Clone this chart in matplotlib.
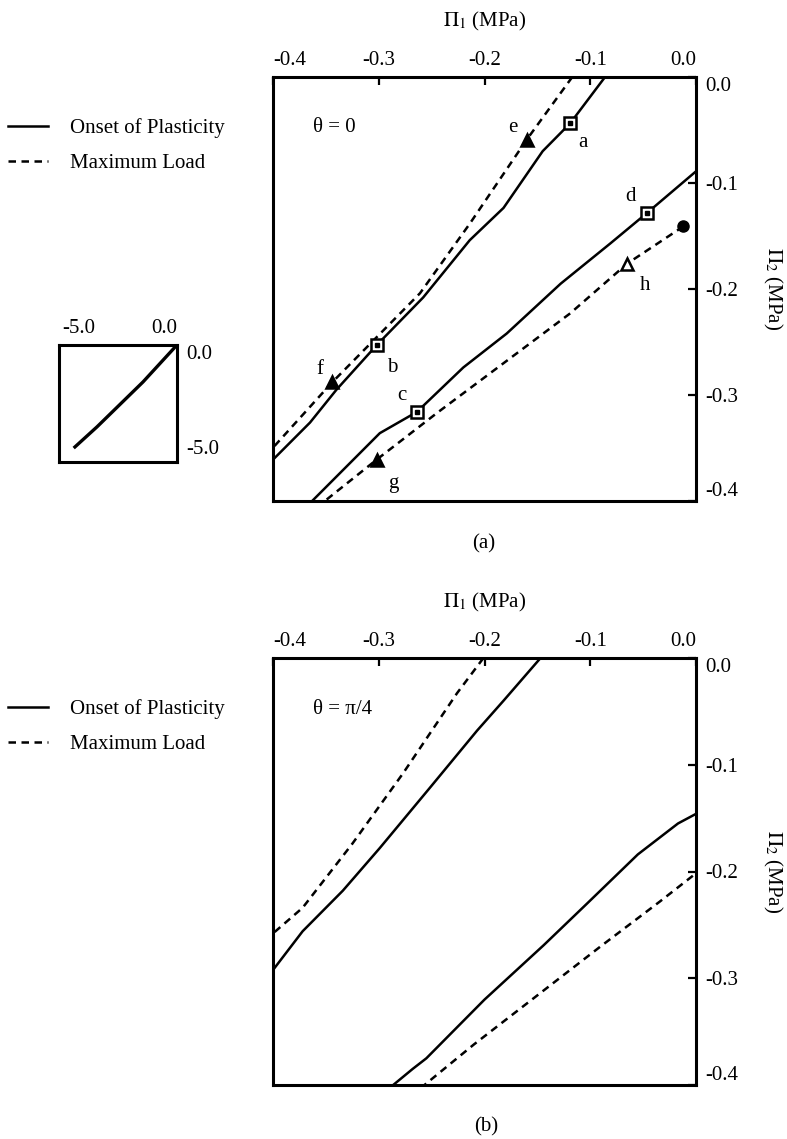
import matplotlib
import matplotlib.pyplot as plt
from matplotlib.lines import Line2D

matplotlib.rcParams['font.family'] = ['Liberation Serif', 'DejaVu Serif']
matplotlib.rcParams['mathtext.fontset'] = 'stix'
matplotlib.rcParams['font.size'] = 15

# ---- theta = 0 : yield surfaces in (Pi_1, Pi_2), MPa ----
onset_upper_0_x = [-0.086, -0.119, -0.145, -0.182, -0.214, -0.258, -0.302, -0.340, -0.365, -0.403]
onset_upper_0_y = [0.0, -0.0437, -0.070, -0.1235, -0.154, -0.208, -0.253, -0.295, -0.326, -0.364]
maxload_upper_0_x = [-0.117, -0.160, -0.214, -0.261, -0.344, -0.403]
maxload_upper_0_y = [0.0, -0.059, -0.1385, -0.204, -0.288, -0.353]
onset_lower_0_x = [0.0, -0.046, -0.081, -0.128, -0.179, -0.220, -0.264, -0.299, -0.363]
onset_lower_0_y = [-0.089, -0.128, -0.157, -0.195, -0.242, -0.274, -0.316, -0.336, -0.400]
maxload_lower_0_x = [-0.012, -0.065, -0.119, -0.182, -0.245, -0.302, -0.351]
maxload_lower_0_y = [-0.141, -0.176, -0.223, -0.270, -0.317, -0.361, -0.400]

# load paths marked on the theta = 0 curves
square_labels = ['a', 'b', 'c', 'd']
square_x = [-0.119, -0.302, -0.264, -0.046]
square_y = [-0.0437, -0.253, -0.316, -0.128]
triangle_labels = ['e', 'f', 'g', 'h']
triangle_x = [-0.160, -0.344, -0.302, -0.065]
triangle_y = [-0.059, -0.288, -0.361, -0.176]
circle_x = [-0.012]
circle_y = [-0.141]

# ---- theta = pi/4 ----
onset_upper_45_x = [-0.147, -0.182, -0.207, -0.252, -0.299, -0.334, -0.372, -0.399]
onset_upper_45_y = [0.0, -0.040, -0.068, -0.122, -0.178, -0.218, -0.256, -0.291]
maxload_upper_45_x = [-0.201, -0.226, -0.277, -0.325, -0.372, -0.400]
maxload_upper_45_y = [0.0, -0.033, -0.108, -0.174, -0.234, -0.258]
onset_lower_45_x = [0.0, -0.017, -0.055, -0.103, -0.144, -0.200, -0.255, -0.268, -0.290]
onset_lower_45_y = [-0.146, -0.155, -0.184, -0.230, -0.269, -0.320, -0.375, -0.385, -0.403]
maxload_lower_45_x = [-0.003, -0.034, -0.090, -0.150, -0.210, -0.258]
maxload_lower_45_y = [-0.204, -0.228, -0.270, -0.316, -0.362, -0.401]

# full-scale view (inset)
full_x = [-5.19, -4.07, -1.73, -0.10]
full_y = [-4.88, -3.92, -1.77, -0.10]

ticks = [-0.4, -0.3, -0.2, -0.1, 0.0]
tick_labels = ['-0.4', '-0.3', '-0.2', '-0.1', '0.0']

W, H = 787, 1139
LW = 1.8
DASH = (3.0, 2.2)


def box(l, t, r, b):
    return [l / W, 1 - b / H, (r - l) / W, (b - t) / H]


def style_axes(ax, xt, xl, yt, yl):
    for s in ax.spines.values():
        s.set_linewidth(2.2)
    ax.xaxis.tick_top()
    ax.yaxis.tick_right()
    ax.tick_params(direction='in', length=6, width=1.6, pad=5)
    ax.tick_params(axis='y', pad=7)
    ax.set_xticks(xt)
    ax.set_xticklabels(xl)
    ax.set_yticks(yt)
    ax.set_yticklabels(yl)
    xlabs = ax.get_xticklabels()
    xlabs[0].set_horizontalalignment('left')
    xlabs[-1].set_horizontalalignment('right')
    ylabs = ax.get_yticklabels()
    ylabs[0].set_verticalalignment('bottom')
    ylabs[-1].set_verticalalignment('top')


def main_panel(ax, theta_text):
    ax.set_xlim(-0.4, 0.0)
    ax.set_ylim(-0.4, 0.0)
    style_axes(ax, ticks, tick_labels, ticks, tick_labels)
    ax.xaxis.set_label_position('top')
    ax.set_xlabel(r'$\Pi_1$ (MPa)', labelpad=18)
    ax.yaxis.set_label_position('right')
    ax.set_ylabel(r'$\Pi_2$ (MPa)', rotation=270, va='bottom', labelpad=16)
    ax.text(-0.362, -0.048, theta_text, ha='left', va='center', fontsize=15)


def legend(fig, top_px):
    handles = [Line2D([], [], color='black', lw=LW),
               Line2D([], [], color='black', lw=LW, dashes=DASH)]
    fig.legend(handles, ['Onset of Plasticity', 'Maximum Load'], loc='upper left',
               bbox_to_anchor=(8 / W, 1 - top_px / H), frameon=False,
               borderpad=0, borderaxespad=0, handlelength=1.9,
               handletextpad=1.1, labelspacing=0.75, fontsize=15)


fig = plt.figure(figsize=(W / 100, H / 100), dpi=100)

# (a) theta = 0
ax1 = fig.add_axes(box(273, 77, 696, 501))
main_panel(ax1, 'θ = 0')
ax1.plot(onset_upper_0_x, onset_upper_0_y, color='black', lw=LW)
ax1.plot(onset_lower_0_x, onset_lower_0_y, color='black', lw=LW)
ax1.plot(maxload_upper_0_x, maxload_upper_0_y, color='black', lw=LW, dashes=DASH)
ax1.plot(maxload_lower_0_x, maxload_lower_0_y, color='black', lw=LW, dashes=DASH)

ax1.plot(square_x, square_y, 's', ms=8, mfc='white', mec='black', mew=1.8, zorder=5)
ax1.plot(square_x, square_y, 's', ms=2.2, color='black', zorder=6)
tri_face = ['black', 'black', 'black', 'white']
for x, y, fc in zip(triangle_x, triangle_y, tri_face):
    ax1.plot(x, y, '^', ms=8, mfc=fc, mec='black', mew=1.8, zorder=5)
ax1.plot(circle_x, circle_y, 'o', ms=8, color='black', zorder=5)

square_offsets = [(9, -14), (11, -16), (-11, 12), (-12, 12)]
triangle_offsets = [(-10, 9), (-9, 9), (12, -17), (13, -16)]
for lab, x, y, off in zip(square_labels, square_x, square_y, square_offsets):
    ax1.annotate(lab, (x, y), xytext=off, textcoords='offset points',
                 ha='center', va='center', fontsize=15)
for lab, x, y, off in zip(triangle_labels, triangle_x, triangle_y, triangle_offsets):
    ax1.annotate(lab, (x, y), xytext=off, textcoords='offset points',
                 ha='center', va='center', fontsize=15)

legend(fig, 118)
fig.text(484 / W, 1 - 544 / H, '(a)', ha='center', va='center', fontsize=15)

# inset: the same path on the full scale
axi = fig.add_axes(box(59, 345, 177, 462))
axi.set_xlim(-6.0, 0.0)
axi.set_ylim(-5.6, 0.0)
style_axes(axi, [-5.0, 0.0], ['-5.0', '0.0'], [-5.0, 0.0], ['-5.0', '0.0'])
axi.tick_params(length=0)
axi.get_xticklabels()[0].set_horizontalalignment('center')
axi.get_yticklabels()[0].set_verticalalignment('center')
axi.plot(full_x, full_y, color='black', lw=2.4)

# (b) theta = pi/4
ax2 = fig.add_axes(box(273, 658, 696, 1085))
main_panel(ax2, 'θ = π/4')
ax2.plot(onset_upper_45_x, onset_upper_45_y, color='black', lw=LW)
ax2.plot(onset_lower_45_x, onset_lower_45_y, color='black', lw=LW)
ax2.plot(maxload_upper_45_x, maxload_upper_45_y, color='black', lw=LW, dashes=DASH)
ax2.plot(maxload_lower_45_x, maxload_lower_45_y, color='black', lw=LW, dashes=DASH)

legend(fig, 699)
fig.text(486 / W, 1 - 1127 / H, '(b)', ha='center', va='center', fontsize=15)

fig.savefig('out.png', dpi=100)
